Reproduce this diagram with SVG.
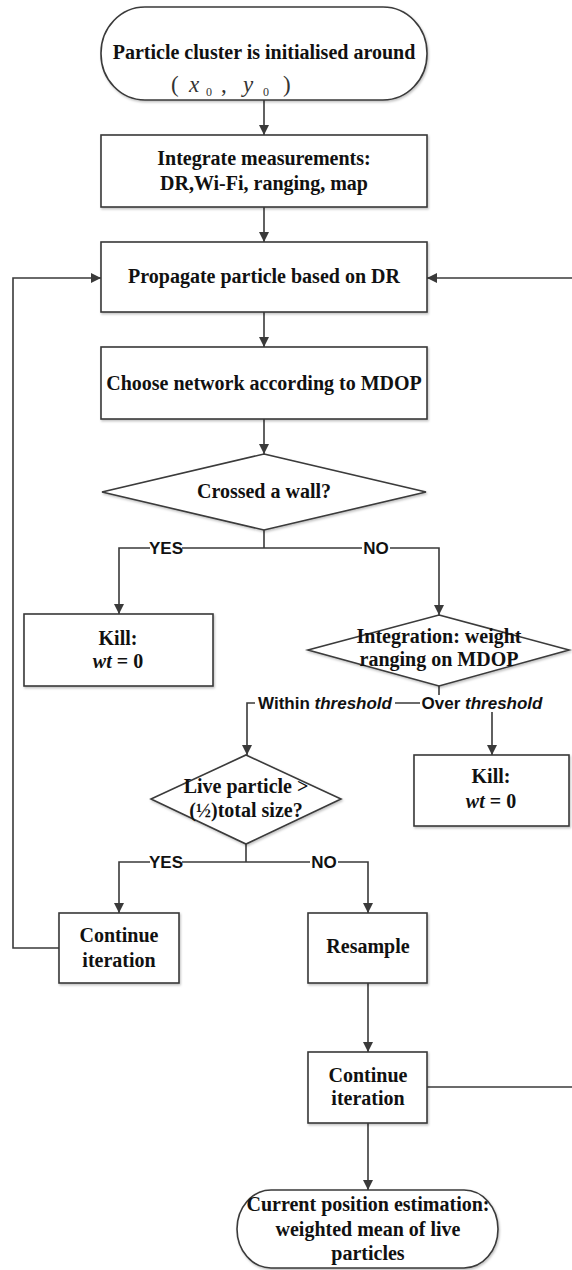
<svg xmlns="http://www.w3.org/2000/svg" width="572" height="1270" viewBox="0 0 572 1270">
<style>
.shape{fill:#fff;stroke:#3a3a3a;stroke-width:1.6;filter:url(#sh)}
.t{font-family:"Liberation Serif","Times New Roman",serif;font-weight:bold;font-size:20px;fill:#111;text-anchor:middle}
.lbl{font-family:"Liberation Sans",Arial,sans-serif;font-weight:bold;font-size:17px;fill:#111;text-anchor:middle}
.bg{fill:#fff;stroke:none}
.c{fill:none;stroke:#3a3a3a;stroke-width:1.6}
.a{marker-end:url(#arr)}
.it{font-style:italic}
</style>
<defs>
<marker id="arr" markerUnits="userSpaceOnUse" markerWidth="11" markerHeight="10" refX="10" refY="5" orient="auto">
<path d="M0,0 L10,5 L0,10 z" fill="#3a3a3a"/>
</marker>
<filter id="sh" x="-5%" y="-5%" width="110%" height="115%">
<feDropShadow dx="1" dy="1.5" stdDeviation="1" flood-color="#000" flood-opacity="0.25"/>
</filter>
</defs>

<g id="connectors">
<path class="c a" d="M264,100 V135"/>
<path class="c a" d="M264,207 V242"/>
<path class="c a" d="M264,312 V347"/>
<path class="c a" d="M264,419 V454"/>
<path class="c" d="M264,530 V548"/>
<path class="c a" d="M264,548 H119 V614"/>
<path class="c a" d="M264,548 H439 V615"/>
<path class="c" d="M439,686 V703"/>
<path class="c a" d="M439,703 H247 V755"/>
<path class="c a" d="M439,703 H492 V755"/>
<path class="c" d="M246,844 V862"/>
<path class="c a" d="M246,862 H119 V913"/>
<path class="c a" d="M246,862 H368 V913"/>
<path class="c a" d="M368,983 V1052"/>
<path class="c a" d="M368,1123 V1190"/>
<path class="c" d="M427,1087 H572"/>
<path class="c a" d="M572,278 H427"/>
<path class="c a" d="M59,948 H13 V278 H101"/>
<g id="labels">
<rect class="bg" x="150" y="540" width="32" height="17"/>
<text class="lbl" x="166" y="554">YES</text>
<rect class="bg" x="362" y="540" width="28" height="17"/>
<text class="lbl" x="376" y="554">NO</text>
<rect class="bg" x="255" y="695" width="140" height="17"/>
<text class="lbl" x="325" y="709">Within <tspan class="it">threshold</tspan></text>
<rect class="bg" x="420" y="695" width="124" height="17"/>
<text class="lbl" x="482" y="709">Over <tspan class="it">threshold</tspan></text>
<rect class="bg" x="150" y="854" width="32" height="17"/>
<text class="lbl" x="166" y="868">YES</text>
<rect class="bg" x="310" y="854" width="28" height="17"/>
<text class="lbl" x="324" y="868">NO</text>
</g>
</g>

<g id="start">
<rect class="shape" x="101" y="7" width="326" height="93" rx="44" ry="46"/>
<text class="t" x="264" y="59">Particle cluster is initialised around</text>
<text font-family="Liberation Serif,serif" font-size="23" fill="#333" y="92"><tspan x="171">(</tspan><tspan x="189" font-style="italic">x</tspan><tspan x="206" y="96" font-size="12">0</tspan><tspan x="221" y="92">,</tspan><tspan x="243" font-style="italic">y</tspan><tspan x="263" y="96" font-size="12">0</tspan><tspan x="283" y="92">)</tspan></text>
</g>

<g id="integrate">
<rect class="shape" x="101" y="135" width="326" height="72"/>
<text class="t" x="264" y="165">Integrate measurements:</text>
<text class="t" x="264" y="190">DR,Wi-Fi, ranging, map</text>
</g>

<g id="propagate">
<rect class="shape" x="101" y="242" width="326" height="70"/>
<text class="t" x="264" y="283">Propagate particle based on DR</text>
</g>

<g id="choose">
<rect class="shape" x="101" y="347" width="326" height="72"/>
<text class="t" x="264" y="390">Choose network according to MDOP</text>
</g>

<g id="wall">
<polygon class="shape" points="264,454 426,492 264,530 102,492"/>
<text class="t" x="264" y="498">Crossed a wall?</text>
</g>

<g id="kill1">
<rect class="shape" x="24" y="614" width="189" height="72"/>
<text class="t" x="118" y="645">Kill:</text>
<text class="t" x="118" y="668"><tspan class="it">wt</tspan> = 0</text>
</g>

<g id="weight">
<polygon class="shape" points="439,615 569,650 439,686 308,650"/>
<text class="t" x="439" y="643">Integration: weight</text>
<text class="t" x="439" y="666">ranging on MDOP</text>
</g>

<g id="kill2">
<rect class="shape" x="414" y="755" width="155" height="71"/>
<text class="t" x="491" y="783">Kill:</text>
<text class="t" x="491" y="808"><tspan class="it">wt</tspan> = 0</text>
</g>

<g id="live">
<polygon class="shape" points="246,755 341,799 246,844 151,799"/>
<text class="t" x="246" y="793">Live particle &gt;</text>
<text class="t" x="246" y="817">(½)total size?</text>
</g>

<g id="continue1">
<rect class="shape" x="59" y="913" width="120" height="70"/>
<text class="t" x="119" y="942">Continue</text>
<text class="t" x="119" y="967">iteration</text>
</g>

<g id="resample">
<rect class="shape" x="308" y="913" width="119" height="70"/>
<text class="t" x="368" y="953">Resample</text>
</g>

<g id="continue2">
<rect class="shape" x="308" y="1052" width="119" height="71"/>
<text class="t" x="368" y="1082">Continue</text>
<text class="t" x="368" y="1105">iteration</text>
</g>

<g id="end">
<rect class="shape" x="237" y="1190" width="261" height="78" rx="34" ry="39"/>
<text class="t" x="368" y="1211">Current position estimation:</text>
<text class="t" x="368" y="1236">weighted mean of live</text>
<text class="t" x="368" y="1260">particles</text>
</g>
</svg>
